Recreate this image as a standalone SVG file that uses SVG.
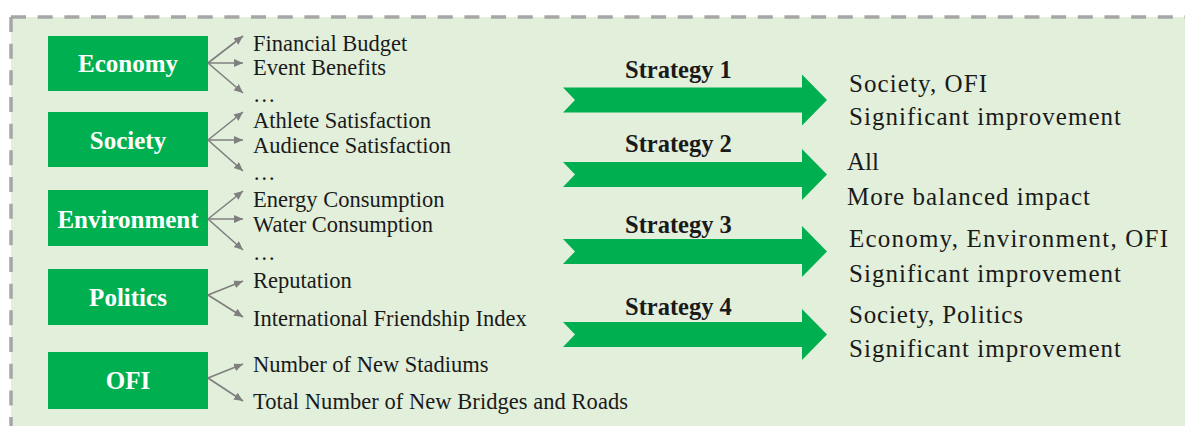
<svg xmlns="http://www.w3.org/2000/svg" width="1185" height="426" viewBox="0 0 1185 426">
  <style>
    .bg { fill: #e2efda; }
    .border { stroke: #a6a6a6; stroke-width: 3.5; stroke-dasharray: 15 11.67; fill: none; }
    .box { fill: #00b050; }
    .boxtxt { font-family: "Liberation Serif", "Times New Roman", serif; font-weight: bold; font-size: 25px; fill: #ffffff; text-anchor: middle; }
    .item { font-family: "Liberation Serif", "Times New Roman", serif; font-size: 22.5px; fill: #1a1a1a; }
    .strat { font-family: "Liberation Serif", "Times New Roman", serif; font-weight: bold; font-size: 24.5px; fill: #1a1a1a; }
    .res { font-family: "Liberation Serif", "Times New Roman", serif; font-size: 25px; fill: #1a1a1a; }
    .conn { stroke: #7f7f7f; stroke-width: 1.6; fill: none; marker-end: url(#ah); }
    .barrow { fill: #00b050; }
  </style>
  <defs>
    <marker id="ah" markerUnits="userSpaceOnUse" markerWidth="10" markerHeight="9" refX="9" refY="4" orient="auto">
      <path d="M0,0 L9,4 L0,8 z" fill="#7f7f7f"/>
    </marker>
  </defs>

  <rect class="bg" x="11" y="17" width="1200" height="420"/>
  <line class="border" x1="11" y1="17" x2="1185" y2="17"/>
  <line class="border" x1="11" y1="17" x2="11" y2="426"/>

  <g id="node-economy">
    <rect class="box" x="48" y="36" width="160" height="55"/>
    <text class="boxtxt" x="128" y="72">Economy</text>
  </g>
  <g id="node-society">
    <rect class="box" x="48" y="112" width="160" height="55"/>
    <text class="boxtxt" x="128" y="149">Society</text>
  </g>
  <g id="node-environment">
    <rect class="box" x="48" y="190" width="160" height="56"/>
    <text class="boxtxt" x="128" y="228">Environment</text>
  </g>
  <g id="node-politics">
    <rect class="box" x="48" y="269" width="160" height="56"/>
    <text class="boxtxt" x="128" y="306">Politics</text>
  </g>
  <g id="node-ofi">
    <rect class="box" x="48" y="352" width="160" height="57"/>
    <text class="boxtxt" x="128" y="389">OFI</text>
  </g>

  <g id="items">
    <text class="item" x="253" y="51">Financial Budget</text>
    <text class="item" x="253" y="75">Event Benefits</text>
    <text class="item" x="253" y="102">…</text>
    <text class="item" x="253" y="128">Athlete Satisfaction</text>
    <text class="item" x="253" y="153">Audience Satisfaction</text>
    <text class="item" x="253" y="180">…</text>
    <text class="item" x="253" y="207">Energy Consumption</text>
    <text class="item" x="253" y="232">Water Consumption</text>
    <text class="item" x="253" y="260">…</text>
    <text class="item" x="253" y="288">Reputation</text>
    <text class="item" x="253" y="326">International Friendship Index</text>
    <text class="item" x="253" y="372">Number of New Stadiums</text>
    <text class="item" x="253" y="409" textLength="375" lengthAdjust="spacing">Total Number of New Bridges and Roads</text>
  </g>

  <g id="connectors">
    <line class="conn" x1="208" y1="63" x2="243" y2="36"/>
    <line class="conn" x1="208" y1="63" x2="243" y2="63"/>
    <line class="conn" x1="208" y1="63" x2="243" y2="93"/>
    <line class="conn" x1="208" y1="140" x2="243" y2="112"/>
    <line class="conn" x1="208" y1="140" x2="243" y2="140"/>
    <line class="conn" x1="208" y1="140" x2="243" y2="171"/>
    <line class="conn" x1="208" y1="219" x2="243" y2="191"/>
    <line class="conn" x1="208" y1="219" x2="243" y2="219"/>
    <line class="conn" x1="208" y1="219" x2="243" y2="250"/>
    <line class="conn" x1="208" y1="295" x2="243" y2="281"/>
    <line class="conn" x1="208" y1="295" x2="243" y2="317"/>
    <line class="conn" x1="208" y1="378" x2="243" y2="364"/>
    <line class="conn" x1="208" y1="378" x2="243" y2="401"/>
  </g>

  <g id="strategy-1">
    <text class="strat" x="625" y="78">Strategy 1</text>
    <polygon class="barrow" points="563,87.5 802,87.5 802,74.5 827,100 802,125.5 802,112.5 563,112.5 575,100"/>
    <text class="res" x="849" y="92" textLength="138" lengthAdjust="spacing">Society, OFI</text>
    <text class="res" x="849" y="125" textLength="272" lengthAdjust="spacing">Significant improvement</text>
  </g>
  <g id="strategy-2">
    <text class="strat" x="625" y="152">Strategy 2</text>
    <polygon class="barrow" points="563,162 802,162 802,149 827,174.5 802,200 802,187 563,187 575,174.5"/>
    <text class="res" x="847" y="170">All</text>
    <text class="res" x="847" y="205" textLength="243" lengthAdjust="spacing">More balanced impact</text>
  </g>
  <g id="strategy-3">
    <text class="strat" x="625" y="233">Strategy 3</text>
    <polygon class="barrow" points="563,239 802,239 802,226 827,251.5 802,277 802,264 563,264 575,251.5"/>
    <text class="res" x="849" y="247" textLength="319" lengthAdjust="spacing">Economy, Environment, OFI</text>
    <text class="res" x="849" y="282" textLength="272" lengthAdjust="spacing">Significant improvement</text>
  </g>
  <g id="strategy-4">
    <text class="strat" x="625" y="315">Strategy 4</text>
    <polygon class="barrow" points="563,322 802,322 802,309 827,334.5 802,360 802,347 563,347 575,334.5"/>
    <text class="res" x="849" y="323" textLength="174" lengthAdjust="spacing">Society, Politics</text>
    <text class="res" x="849" y="357" textLength="272" lengthAdjust="spacing">Significant improvement</text>
  </g>
</svg>
